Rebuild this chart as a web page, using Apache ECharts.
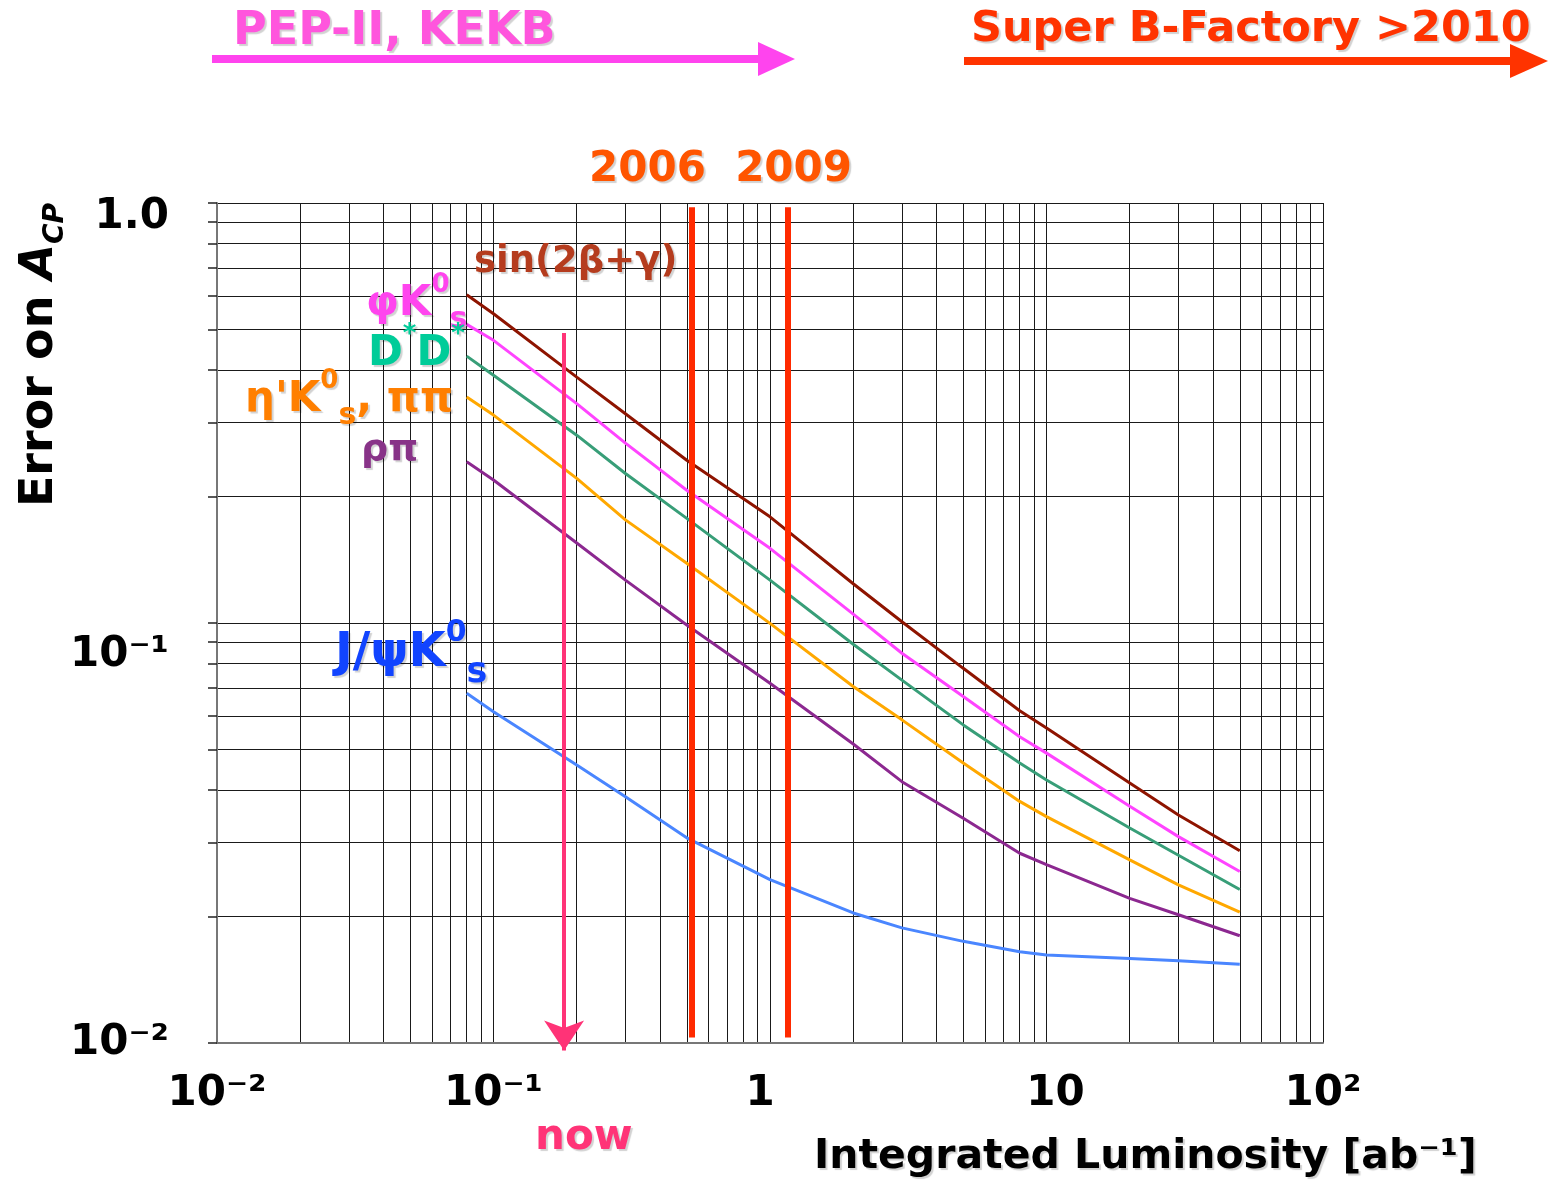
<!DOCTYPE html>
<html><head><meta charset="utf-8">
<script src="https://cdn.jsdelivr.net/npm/echarts@6/dist/echarts.min.js"></script>
<style>html,body{margin:0;padding:0;background:#fff}#c{width:1549px;height:1184px}</style>
</head><body><div id="c"></div>
<script>
// ---- data ----
const lumi = [0.08, 0.1, 0.2, 0.3, 0.5, 1, 2, 3, 5, 8, 10, 20, 30, 50];
const sin2bg = [0.605, 0.545, 0.385, 0.315, 0.244, 0.179, 0.124, 0.1007, 0.078, 0.0618, 0.0562, 0.0416, 0.0349, 0.0287];
const phiKs = [0.514, 0.471, 0.333, 0.268, 0.207, 0.1506, 0.105, 0.0847, 0.0668, 0.0536, 0.049, 0.0366, 0.031, 0.0256];
const dstarDstar = [0.432, 0.389, 0.28, 0.227, 0.1775, 0.1265, 0.089, 0.0731, 0.0572, 0.0464, 0.0423, 0.0325, 0.028, 0.0232];
const etapKsPiPi = [0.345, 0.3126, 0.221, 0.176, 0.1387, 0.0998, 0.0706, 0.0588, 0.0464, 0.0376, 0.0346, 0.0273, 0.0238, 0.0205];
const rhoPi = [0.242, 0.219, 0.155, 0.1265, 0.0989, 0.0719, 0.0515, 0.0419, 0.0343, 0.0283, 0.0266, 0.0221, 0.0202, 0.018];
const jpsiKs = [0.068, 0.0615, 0.0459, 0.0386, 0.0308, 0.0245, 0.0204, 0.0188, 0.01746, 0.0165, 0.0162, 0.0159, 0.0157, 0.0154];
const yearLumi = [0.52, 1.16];          // 2006, 2009 markers
const yearSpan = [0.977, 0.0103];       // vertical extent of year markers
const nowLumi = 0.18;
const nowSpan = [0.49, 0.0096];
const xTickLabels = [0.01, 0.1, 1, 10, 100];
const yTickLabels = [0.01, 0.1, 1];
const mantissas = [1, 2, 3, 4, 5, 6, 7, 8, 9];

function gridValues(decades, last) {
  const out = [];
  decades.forEach(d => mantissas.forEach(m => out.push(Number((m * d).toPrecision(6)))));
  out.push(last);
  return out;
}
const xGrid = gridValues([0.01, 0.1, 1, 10], 100);
const yGrid = gridValues([0.01, 0.1], 1);

const FONT = '"DejaVu Sans", sans-serif';
const pair = arr => lumi.map((x, i) => [x, arr[i]]);
function near(a, b) { return Math.abs(a / b - 1) < 1e-6; }

const chart = echarts.init(document.getElementById('c'), null, {renderer: 'canvas'});

function curve(name, arr, color) {
  return {
    name, type: 'line', data: pair(arr), showSymbol: false, symbol: 'none',
    lineStyle: {color, width: 3}, animation: false, silent: true, z: 5
  };
}
const shadow = {textShadowColor: 'rgba(0,0,0,0.18)', textShadowOffsetX: 2, textShadowOffsetY: 2, textShadowBlur: 1};
function label(x, y, text, color, size, rich) {
  const r = {};
  if (rich) {
    Object.keys(rich).forEach(k => { r[k] = Object.assign({fill: color, fontFamily: FONT, fontWeight: 'bold'}, rich[k]); });
  }
  return {
    type: 'text', x, y, z: 10, silent: true,
    style: Object.assign({
      text, fill: color, font: 'bold ' + (size || 40) + 'px ' + FONT,
      textAlign: 'left', textVerticalAlign: 'middle', rich: r
    }, shadow)
  };
}
const subRich = (size) => ({
  m: {fontSize: size, lineHeight: size * 1.5, verticalAlign: 'middle'},
  sup: {fontSize: Math.round(size * 0.62), lineHeight: size * 1.5, verticalAlign: 'top'},
  sub: {fontSize: Math.round(size * 0.72), lineHeight: size * 1.5, verticalAlign: 'bottom'}
});

const option = {
  backgroundColor: '#fff',
  animation: false,
  grid: {left: 217, top: 203, width: 1106, height: 840, show: false},
  xAxis: {
    type: 'log', logBase: 10, min: 0.01, max: 100,
    axisLine: {show: true, lineStyle: {color: '#777', width: 2}},
    axisTick: {show: false, customValues: xGrid},
    splitLine: {show: true, lineStyle: {color: '#1a1a1a', width: 1}},
    minorTick: {show: false}, minorSplitLine: {show: false},
    axisLabel: {
      customValues: xTickLabels, margin: 30, color: '#000',
      fontFamily: FONT, fontWeight: 'bold', fontSize: 42,
      formatter: v => {
        if (near(v, 0.01)) return '{a|10⁻²}';
        if (near(v, 0.1)) return '{a|10⁻¹}';
        if (near(v, 1)) return '{one|1}';
        if (near(v, 10)) return '{ten|10}';
        return '{a|10²}';
      },
      rich: {
        a: {fontFamily: FONT, fontWeight: 'bold', fontSize: 42, color: '#000'},
        one: {fontFamily: FONT, fontWeight: 'bold', fontSize: 42, color: '#000', padding: [0, 20, 0, 0]},
        ten: {fontFamily: FONT, fontWeight: 'bold', fontSize: 42, color: '#000', padding: [0, 0, 0, 18]}
      }
    }
  },
  yAxis: {
    type: 'log', logBase: 10, min: 0.01, max: 1,
    axisLine: {show: true, lineStyle: {color: '#777', width: 2}},
    axisTick: {show: true, inside: false, length: 9, customValues: yGrid, lineStyle: {color: '#222', width: 1.5}},
    splitLine: {show: true, lineStyle: {color: '#1a1a1a', width: 1}},
    minorTick: {show: false}, minorSplitLine: {show: false},
    axisLabel: {
      customValues: yTickLabels, margin: 48, color: '#000',
      fontFamily: FONT, fontWeight: 'bold', fontSize: 42,
      formatter: v => {
        if (near(v, 1)) return '{a|1.0}';
        if (near(v, 0.1)) return '{b|10⁻¹}';
        return '{c|10⁻²}';
      },
      rich: {
        a: {fontFamily: FONT, fontWeight: 'bold', fontSize: 42, color: '#000', padding: [28, 0, 0, 0]},
        b: {fontFamily: FONT, fontWeight: 'bold', fontSize: 42, color: '#000', padding: [64, 0, 0, 0]},
        c: {fontFamily: FONT, fontWeight: 'bold', fontSize: 42, color: '#000', padding: [0, 0, 0, 0]}
      }
    }
  },
  series: [
    curve('sin(2β+γ)', sin2bg, '#8e1400'),
    curve('φK0s', phiKs, '#ff44ff'),
    curve('D*D*', dstarDstar, '#389e78'),
    curve("η'K0s, ππ", etapKsPiPi, '#ffa800'),
    curve('ρπ', rhoPi, '#8c2890'),
    curve('J/ψK0s', jpsiKs, '#4a86ff'),
    {
      name: 'years', type: 'lines', coordinateSystem: 'cartesian2d', silent: true, z: 6,
      polyline: false, symbol: 'none',
      lineStyle: {color: '#ff2a00', width: 6, opacity: 1},
      data: yearLumi.map(x => ({coords: [[x, yearSpan[0]], [x, yearSpan[1]]]}))
    },
    {
      name: 'now', type: 'lines', coordinateSystem: 'cartesian2d', silent: true, z: 7, clip: false,
      symbol: ['none', 'arrow'], symbolSize: [40, 30],
      lineStyle: {color: '#ff3377', width: 4, opacity: 1},
      data: [{coords: [[nowLumi, nowSpan[0]], [nowLumi, nowSpan[1]]]}]
    }
  ],
  graphic: [
    // top arrows
    {type: 'rect', shape: {x: 212, y: 55, width: 550, height: 8}, style: {fill: '#ff44ee'}, silent: true},
    {type: 'polygon', shape: {points: [[758, 42], [795, 59], [758, 76]]}, style: {fill: '#ff44ee'}, silent: true},
    {type: 'rect', shape: {x: 964, y: 57, width: 550, height: 8}, style: {fill: '#ff3300'}, silent: true},
    {type: 'polygon', shape: {points: [[1510, 44], [1548, 61], [1510, 78]]}, style: {fill: '#ff3300'}, silent: true},
    label(233, 32, 'PEP-II, KEKB', '#ff55dd', 46),
    label(971, 30, 'Super B-Factory >2010', '#ff3300', 43),
    label(589, 170, '2006  2009', '#ff5500', 42),
    label(474, 262, 'sin(2β+γ)', '#b53c1e', 37),
    label(366, 304, '{m|φK}{sup|0}{sub|s}', '#ff44ee', 42, subRich(42)),
    label(368, 354, '{m|D}{sup|*}{m|D}{sup|*}', '#00cc99', 42, subRich(42)),
    label(245, 400, "{m|η'K}{sup|0}{sub|s}{m|, ππ}", '#ff7f00', 42, subRich(42)),
    label(361, 450, 'ρπ', '#883388', 38),
    label(335, 654, '{m|J/ψK}{sup|0}{sub|s}', '#1144ff', 48, subRich(48)),
    label(535, 1138, 'now', '#ff3377', 42),
    label(814, 1157, 'Integrated Luminosity [ab⁻¹]', '#000', 41),
    {
      type: 'text', x: 40, y: 355, rotation: Math.PI / 2, silent: true,
      style: {
        text: '{m|Error on }{i|A}{s|CP}', textAlign: 'center', textVerticalAlign: 'middle',
        rich: {
          m: {fontFamily: FONT, fontWeight: 'bold', fontSize: 46, fill: '#000', lineHeight: 60, verticalAlign: 'middle'},
          i: {fontFamily: FONT, fontWeight: 'bold', fontStyle: 'italic', fontSize: 46, fill: '#000', lineHeight: 60, verticalAlign: 'middle'},
          s: {fontFamily: FONT, fontWeight: 'bold', fontStyle: 'italic', fontSize: 28, fill: '#000', lineHeight: 60, verticalAlign: 'bottom'}
        }
      }
    }
  ]
};
chart.setOption(option);
</script></body></html>
